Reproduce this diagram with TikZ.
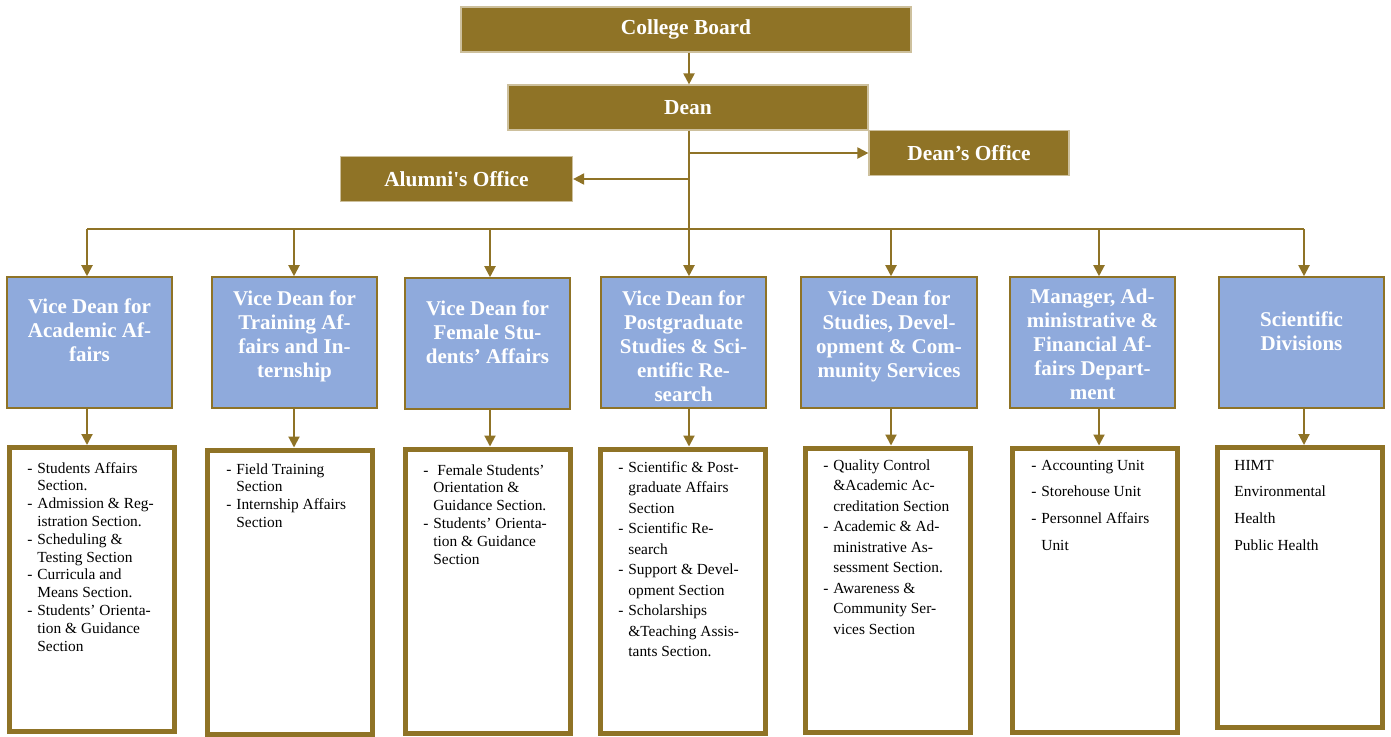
\documentclass[tikz,border=0pt]{standalone}
\usepackage{fontspec}
\setmainfont{Liberation Serif}
\usetikzlibrary{arrows.meta}

\definecolor{gold}{RGB}{143,115,38}
\definecolor{vdblue}{RGB}{143,170,220}

\tikzset{
  office/.style={fill=gold, draw=gold!45, line width=0.6pt, text=white,
    font=\fontsize{10.7}{12}\selectfont\bfseries, minimum height=22.5pt, inner sep=0pt},
  vdbox/.style={fill=vdblue, draw=gold, line width=0.8pt,
    minimum width=82.5pt, minimum height=65.5pt, inner sep=0pt},
  vdtext/.style={anchor=north, inner sep=0pt, align=center, text=white,
    font=\fontsize{10.5}{12}\selectfont\bfseries},
  unitbox/.style={draw=gold, line width=2.5pt, fill=white,
    minimum width=82.5pt, minimum height=142pt, inner sep=0pt},
  unit/.style={anchor=base west, inner sep=0pt, font=\fontsize{7.7}{#1}\selectfont},
  unit/.default=8.9pt,
  link/.style={draw=gold, line width=1pt},
  arr/.style={link, -{Triangle[width=5.5pt,length=5.5pt]}},
}
\newcommand\bul{\makebox[5pt][l]{-}}
\newcommand\nobul{\hspace*{5pt}}

\begin{document}
\begin{tikzpicture}[x=0.5pt, y=-0.5pt]
  \fill[white] (0,0) rectangle (1391,736);
  \useasboundingbox (0,0) rectangle (1391,736);

  % board, dean and offices
  \node[office, minimum width=225pt] (board) at (686,29.5) {College Board};
  \node[office, minimum width=180pt] (dean) at (688,107.5) {Dean};
  \node[office, minimum width=100pt] (office) at (969,153) {Dean’s Office};
  \node[office, minimum width=116pt] (alumni) at (456.5,179) {Alumni\textquotesingle s Office};

  % drop points on the bus line
  \coordinate (bus) at (689,229);
  \coordinate (a1) at (87,229);
  \coordinate (a2) at (294,229);
  \coordinate (a3) at (490,229);
  \coordinate (a4) at (689,229);
  \coordinate (a5) at (891,229);
  \coordinate (a6) at (1099,229);
  \coordinate (a7) at (1304,229);

  \draw[arr] (board.south -| bus) -- (dean.north -| bus);
  \draw[link] (dean.south -| bus) -- (bus);
  \draw[arr] (bus |- office.west) -- (office.west);
  \draw[arr] (bus |- alumni.east) -- (alumni.east);

  % vice deans
  \node[vdbox] (vd1) at (89.5,342.5) {};
  \node[vdbox] (vd2) at (294.5,342.5) {};
  \node[vdbox] (vd3) at (487.5,343.5) {};
  \node[vdbox] (vd4) at (683.5,342.5) {};
  \node[vdbox, minimum width=88pt] (vd5) at (889,342.5) {};
  \node[vdbox] (vd6) at (1092.5,342.5) {};
  \node[vdbox] (vd7) at (1301.5,342.5) {};

  \node[vdtext] (vd1t) at (89.5,298) {Vice Dean for\\Academic Af-\\fairs};
  \node[vdtext] (vd2t) at (294.5,290) {Vice Dean for\\Training Af-\\fairs and In-\\ternship};
  \node[vdtext] (vd3t) at (487.5,300) {Vice Dean for\\Female Stu-\\dents’ Affairs};
  \node[vdtext] (vd4t) at (683.5,290) {Vice Dean for\\Postgraduate\\Studies \& Sci-\\entific Re-\\search};
  \node[vdtext] (vd5t) at (889,290) {Vice Dean for\\Studies, Devel-\\opment \& Com-\\munity Services};
  \node[vdtext] (vd6t) at (1092.5,289) {Manager, Ad-\\ministrative \&\\Financial Af-\\fairs Depart-\\ment};
  \node[vdtext] (vd7t) at (1301.5,311) {Scientific\\Divisions};

  % bus line
  \draw[link] (a1) -- (a7);

  % unit boxes
  \node[unitbox] (u1) at (91.5,589.5) {};
  \node[unitbox] (u2) at (290,592) {};
  \node[unitbox] (u3) at (488,591) {};
  \node[unitbox] (u4) at (683,591) {};
  \node[unitbox] (u5) at (888,590) {};
  \node[unitbox] (u6) at (1094.5,590) {};
  \node[unitbox, minimum height=140pt] (u7) at (1300,587.5) {};

  \foreach \i in {1,...,7} {
    \draw[arr] (a\i) -- (a\i |- vd\i.north);
    \draw[arr] (a\i |- vd\i.south) -- (a\i |- u\i.north);
  }

  % unit lists
  \node[unit] (l1) at (27,473) {\begin{tabular}[t]{@{}l@{}}
    \bul Students Affairs\\
    \nobul Section.\\
    \bul Admission \& Reg-\\
    \nobul istration Section.\\
    \bul Scheduling \&\\
    \nobul Testing Section\\
    \bul Curricula and\\
    \nobul Means Section.\\
    \bul Students’ Orienta-\\
    \nobul tion \& Guidance\\
    \nobul Section
  \end{tabular}};
  \node[unit] (l2) at (226,474) {\begin{tabular}[t]{@{}l@{}}
    \bul Field Training\\
    \nobul Section\\
    \bul Internship Affairs\\
    \nobul Section
  \end{tabular}};
  \node[unit] (l3) at (423,475) {\begin{tabular}[t]{@{}l@{}}
    \bul\ Female Students’\\
    \nobul Orientation \&\\
    \nobul Guidance Section.\\
    \bul Students’ Orienta-\\
    \nobul tion \& Guidance\\
    \nobul Section
  \end{tabular}};
  \node[unit=10.25pt] (l4) at (618,472) {\begin{tabular}[t]{@{}l@{}}
    \bul Scientific \& Post-\\
    \nobul graduate Affairs\\
    \nobul Section\\
    \bul Scientific Re-\\
    \nobul search\\
    \bul Support \& Devel-\\
    \nobul opment Section\\
    \bul Scholarships\\
    \nobul \&Teaching Assis-\\
    \nobul tants Section.
  \end{tabular}};
  \node[unit=10.25pt] (l5) at (823,470) {\begin{tabular}[t]{@{}l@{}}
    \bul Quality Control\\
    \nobul \&Academic Ac-\\
    \nobul creditation Section\\
    \bul Academic \& Ad-\\
    \nobul ministrative As-\\
    \nobul sessment Section.\\
    \bul Awareness \&\\
    \nobul Community Ser-\\
    \nobul vices Section
  \end{tabular}};
  \node[unit=13.45pt] (l6) at (1031,470) {\begin{tabular}[t]{@{}l@{}}
    \bul Accounting Unit\\
    \bul Storehouse Unit\\
    \bul Personnel Affairs\\
    \nobul Unit
  \end{tabular}};
  \node[unit=13.45pt] (l7) at (1234,470) {\begin{tabular}[t]{@{}l@{}}
    HIMT\\
    Environmental\\
    Health\\
    Public Health
  \end{tabular}};
\end{tikzpicture}
\end{document}
